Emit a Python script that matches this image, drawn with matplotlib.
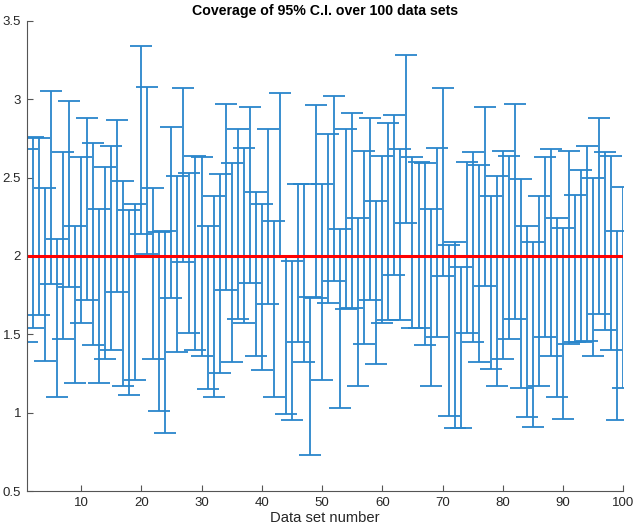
import numpy as np
import matplotlib
matplotlib.use('Agg')
import matplotlib.pyplot as plt
from matplotlib.ticker import FormatStrFormatter

# upper / lower ends of each 95% C.I., data sets 1..100
ci_upper = [2.68, 2.76, 2.75, 2.43, 3.05, 2.11, 2.66, 2.99, 2.19, 2.63,
            2.88, 2.72, 2.30, 2.57, 2.70, 2.87, 2.48, 2.29, 2.33, 3.34,
            3.08, 2.43, 2.15, 2.16, 2.82, 2.51, 3.07, 2.53, 2.64, 2.63,
            2.19, 2.38, 2.52, 2.97, 2.59, 2.81, 2.69, 2.95, 2.41, 2.33,
            2.81, 2.22, 3.04, 2.00, 1.97, 2.46, 2.46, 1.74, 2.96, 2.46,
            2.78, 3.02, 2.17, 2.81, 2.91, 2.24, 2.67, 2.88, 2.35, 2.64,
            2.85, 2.90, 2.68, 3.28, 2.63, 2.60, 2.59, 2.30, 2.69, 3.07,
            2.07, 2.09, 1.93, 2.60, 2.66, 2.58, 2.95, 2.38, 2.51, 2.67,
            2.64, 2.97, 2.49, 2.19, 2.09, 2.38, 2.63, 2.68, 2.24, 2.18,
            2.67, 2.39, 2.55, 2.70, 2.50, 2.88, 2.66, 2.64, 2.16, 2.44]
ci_lower = [1.45, 1.54, 1.62, 1.33, 1.82, 1.10, 1.47, 1.80, 1.19, 1.57,
            1.72, 1.43, 1.19, 1.34, 1.40, 1.77, 1.17, 1.11, 1.21, 2.14,
            2.01, 1.34, 1.01, 0.87, 1.73, 1.39, 1.96, 1.51, 1.40, 1.36,
            1.15, 1.10, 1.25, 1.78, 1.32, 1.60, 1.57, 1.83, 1.36, 1.27,
            1.69, 1.10, 2.00, 0.99, 0.95, 1.45, 1.32, 0.73, 1.73, 1.21,
            1.70, 1.84, 1.03, 1.66, 1.67, 1.17, 1.44, 1.72, 1.31, 1.57,
            1.59, 1.88, 1.59, 2.21, 1.54, 1.54, 1.43, 1.17, 1.48, 1.87,
            0.98, 0.90, 0.90, 1.51, 1.45, 1.32, 1.81, 1.28, 1.17, 1.34,
            1.47, 1.60, 1.16, 0.97, 0.91, 1.17, 1.48, 1.36, 1.10, 0.96,
            1.44, 1.45, 1.45, 1.46, 1.36, 1.63, 1.53, 1.40, 0.95, 1.16]
true_mean = 2.0

plt.rcParams['font.family'] = ['Liberation Sans', 'DejaVu Sans']

lo = np.array(ci_lower)
hi = np.array(ci_upper)
mid = (lo + hi) / 2
x = np.arange(1, len(mid) + 1)

fig = plt.figure(figsize=(6.34, 5.26), dpi=100)
ax = fig.add_axes([0.0421, 0.0665, 0.9413, 0.894])

ax.errorbar(x, mid, yerr=[mid - lo, hi - mid], fmt='none',
            ecolor='#2a86cb', elinewidth=1.3, capsize=8, capthick=1.3)
ax.plot([x[0], x[-1]], [true_mean, true_mean], color='red', linewidth=2.2)

ax.set_xlim(1, 100)
ax.set_ylim(0.5, 3.5)
ax.set_xticks(np.arange(10, 101, 10))
ax.set_yticks(np.arange(0.5, 3.51, 0.5))
ax.yaxis.set_major_formatter(FormatStrFormatter('%g'))

# matlab look: no box, inward ticks
ax.spines['top'].set_visible(False)
ax.spines['right'].set_visible(False)
for s in ('left', 'bottom'):
    ax.spines[s].set_color('#555555')
    ax.spines[s].set_linewidth(0.8)
ax.tick_params(direction='in', length=4, width=0.8, color='#555555',
               labelsize=9.5, labelcolor='#262626', pad=4)

ax.set_title('Coverage of 95% C.I. over 100 data sets', fontsize=10.2,
             fontweight='bold', pad=4)
ax.set_xlabel('Data set number', fontsize=10.6, color='#262626', labelpad=2)

fig.savefig('out.png', dpi=100)
